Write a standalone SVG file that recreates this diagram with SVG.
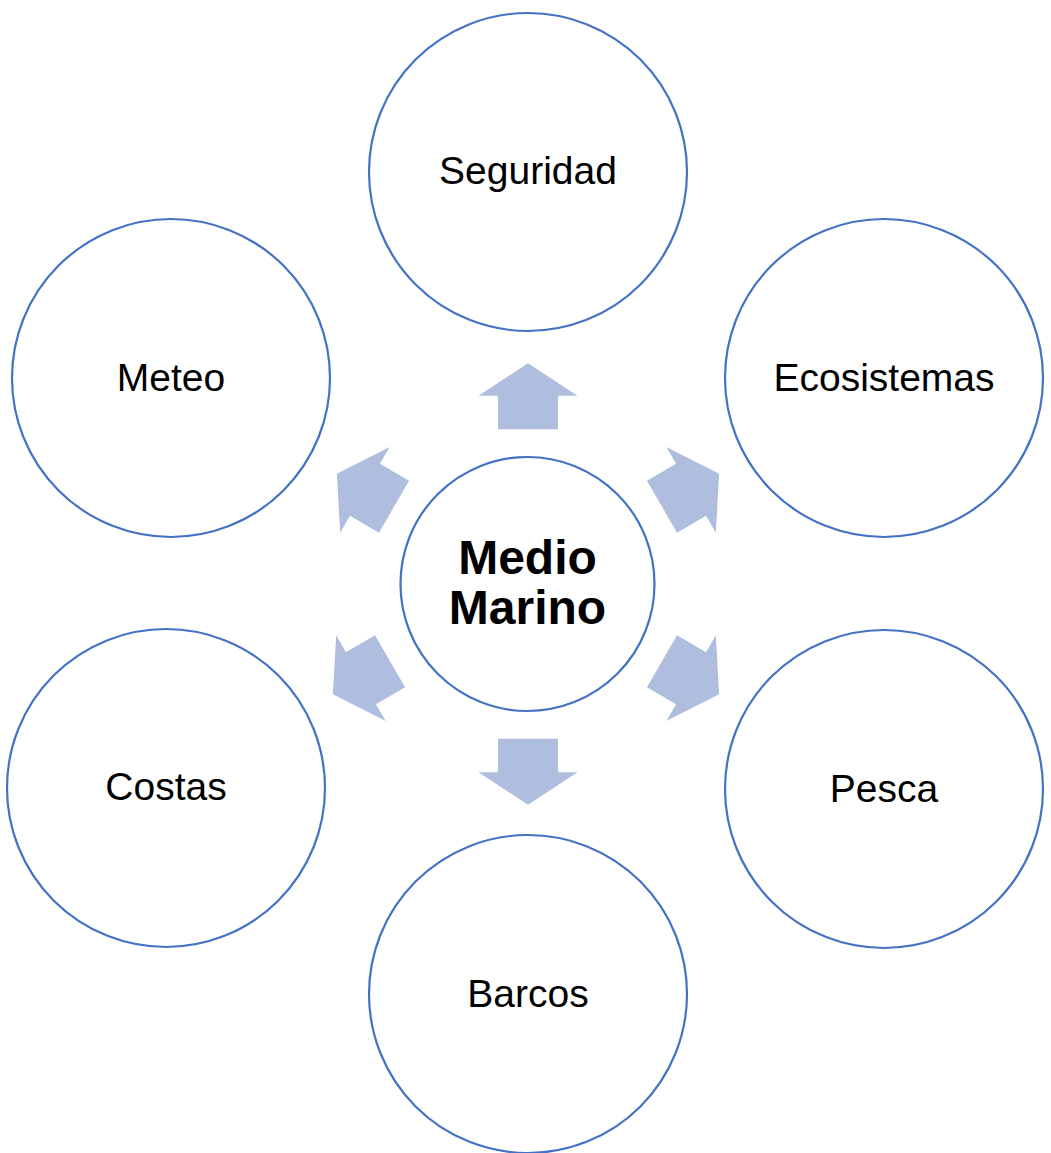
<svg xmlns="http://www.w3.org/2000/svg" width="1051" height="1153" viewBox="0 0 1051 1153">
<style>
.node{fill:#ffffff;stroke:#4472C4;stroke-width:2.2}
.lbl{font-family:"Liberation Sans",Arial,sans-serif;font-size:39px;fill:#000;text-anchor:middle}
.ctr{font-family:"Liberation Sans",Arial,sans-serif;font-size:48px;font-weight:bold;fill:#000;text-anchor:middle}
.arr{fill:#AFBDDF}
</style>
<defs>
<path id="a" d="M -30,-154.7 L -30,-188.3 L -49.5,-188.3 L 0,-220.7 L 49.5,-188.3 L 30,-188.3 L 30,-154.7 Z"/>
</defs>
<rect width="1051" height="1153" fill="#fff"/>
<g id="connectors">
<use href="#a" class="arr" transform="translate(528,584)"/>
<use href="#a" class="arr" transform="translate(528,584) rotate(60)"/>
<use href="#a" class="arr" transform="translate(528,584) rotate(120)"/>
<use href="#a" class="arr" transform="translate(528,584) rotate(180)"/>
<use href="#a" class="arr" transform="translate(524,584) rotate(240)"/>
<use href="#a" class="arr" transform="translate(528,584) rotate(300)"/>
</g>
<g id="center"><circle class="node" cx="527.5" cy="584" r="127"/><text class="ctr" x="527.5" y="574">Medio</text><text class="ctr" x="527.5" y="624">Marino</text></g>
<g id="seguridad"><circle class="node" cx="528" cy="172" r="159"/><text class="lbl" x="528" y="184">Seguridad</text></g>
<g id="meteo"><circle class="node" cx="171" cy="378" r="159"/><text class="lbl" x="171" y="391">Meteo</text></g>
<g id="ecosistemas"><circle class="node" cx="884" cy="378" r="159"/><text class="lbl" x="884" y="391">Ecosistemas</text></g>
<g id="costas"><circle class="node" cx="166" cy="788" r="159"/><text class="lbl" x="166" y="800">Costas</text></g>
<g id="pesca"><circle class="node" cx="884" cy="789" r="159"/><text class="lbl" x="884" y="802">Pesca</text></g>
<g id="barcos"><circle class="node" cx="528" cy="994" r="159"/><text class="lbl" x="528" y="1007">Barcos</text></g>
</svg>
